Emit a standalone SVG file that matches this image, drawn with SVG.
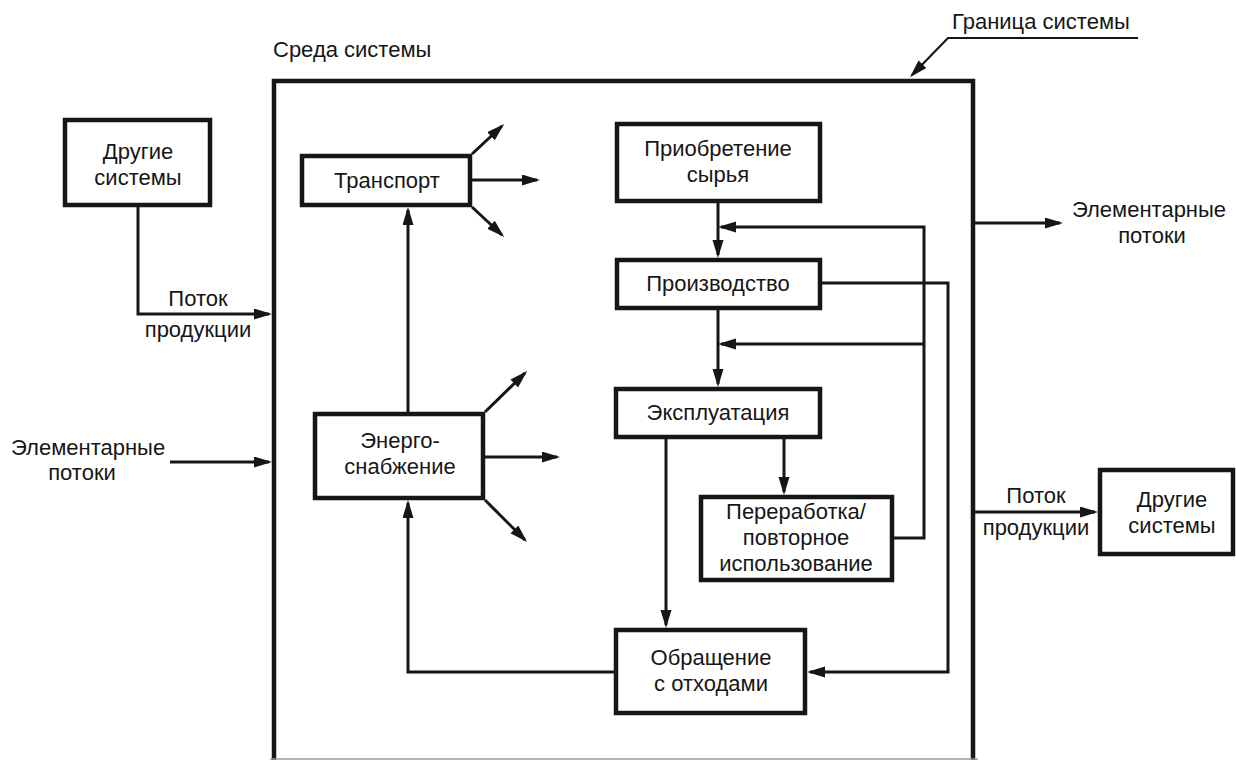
<svg xmlns="http://www.w3.org/2000/svg" width="1236" height="760" viewBox="0 0 1236 760">
<style>
  .box { fill: #ffffff; stroke: #161616; stroke-width: 4.5; }
  .sys { fill: none; stroke: #161616; stroke-width: 4.5; }
  .con { fill: none; stroke: #161616; stroke-width: 3; marker-end: url(#arr); }
  .lbl { font-family: "Liberation Sans", Arial, sans-serif; font-size: 22px; fill: #161616; }
  .c { text-anchor: middle; }
</style>
<defs>
  <marker id="arr" markerUnits="userSpaceOnUse" markerWidth="19" markerHeight="12" refX="15" refY="5.5" orient="auto">
    <path d="M0,0 L18,5.5 L0,11 z" fill="#161616"/>
  </marker>
</defs>
<rect width="1236" height="760" fill="#ffffff"/>

<g id="system-boundary">
  <path class="sys" d="M274,762 V81 H973 V762"/>
  <line x1="270" y1="759" x2="978" y2="759" stroke="#9a9a9a" stroke-width="1.5"/>
  <text class="lbl" x="273" y="57">Среда системы</text>
</g>

<g id="connectors">
  <path class="con" d="M138,207 V314 H269"/>
  <path class="con" d="M170,462 H269"/>
  <path class="con" d="M472,154 L502,126"/>
  <path class="con" d="M472,180 H537"/>
  <path class="con" d="M472,207 L502,235"/>
  <path class="con" d="M408,412 V210"/>
  <path class="con" d="M485,412 L525,373"/>
  <path class="con" d="M485,457 H557"/>
  <path class="con" d="M485,500 L525,540"/>
  <path class="con" d="M614,672 H408 V503"/>
  <path class="con" d="M718,203 V255"/>
  <path class="con" d="M894,538 H924 V227 H721"/>
  <path class="con" d="M924,344 H721"/>
  <path class="con" d="M718,310 V384"/>
  <path class="con" d="M822,283 H948 V672 H810"/>
  <path class="con" d="M666,439 V625"/>
  <path class="con" d="M784,439 V492"/>
  <path class="con" d="M975,223 H1060"/>
  <path class="con" d="M975,512 H1095"/>
  <path class="con" d="M1138,38 H948 L912,75" style="stroke-width:2.2"/>
</g>

<g id="boundary-label">
  <text class="lbl" x="952" y="29">Граница системы</text>
</g>

<g id="other-systems-left">
  <rect class="box" x="65" y="120" width="145" height="85"/>
  <text class="lbl c" x="138" y="159">Другие</text>
  <text class="lbl c" x="138" y="185">системы</text>
</g>

<g id="flow-label-left">
  <text class="lbl c" x="198" y="306">Поток</text>
  <text class="lbl c" x="198" y="337">продукции</text>
</g>

<g id="elementary-in">
  <text class="lbl" x="11" y="455">Элементарные</text>
  <text class="lbl c" x="82" y="480">потоки</text>
</g>

<g id="transport">
  <rect class="box" x="302" y="156" width="168" height="49"/>
  <text class="lbl c" x="387" y="188">Транспорт</text>
</g>

<g id="energy">
  <rect class="box" x="315" y="414" width="168" height="84"/>
  <text class="lbl c" x="400" y="448">Энерго-</text>
  <text class="lbl c" x="400" y="474">снабжение</text>
</g>

<g id="raw-materials">
  <rect class="box" x="617" y="124" width="203" height="77"/>
  <text class="lbl c" x="718" y="156">Приобретение</text>
  <text class="lbl c" x="718" y="182">сырья</text>
</g>

<g id="production">
  <rect class="box" x="617" y="260" width="203" height="48"/>
  <text class="lbl c" x="718" y="291">Производство</text>
</g>

<g id="operation">
  <rect class="box" x="616" y="389" width="204" height="48"/>
  <text class="lbl c" x="718" y="420">Эксплуатация</text>
</g>

<g id="recycling">
  <rect class="box" x="701" y="497" width="191" height="83"/>
  <text class="lbl c" x="796" y="519">Переработка/</text>
  <text class="lbl c" x="796" y="545">повторное</text>
  <text class="lbl c" x="796" y="571">использование</text>
</g>

<g id="waste">
  <rect class="box" x="616" y="630" width="189" height="83"/>
  <text class="lbl c" x="711" y="665">Обращение</text>
  <text class="lbl c" x="711" y="691">с отходами</text>
</g>

<g id="elementary-out">
  <text class="lbl c" x="1149" y="217">Элементарные</text>
  <text class="lbl c" x="1152" y="243">потоки</text>
</g>

<g id="flow-label-right">
  <text class="lbl c" x="1036" y="503">Поток</text>
  <text class="lbl c" x="1036" y="535">продукции</text>
</g>

<g id="other-systems-right">
  <rect class="box" x="1100" y="470" width="133" height="84"/>
  <text class="lbl c" x="1172" y="507">Другие</text>
  <text class="lbl c" x="1172" y="533">системы</text>
</g>
</svg>
